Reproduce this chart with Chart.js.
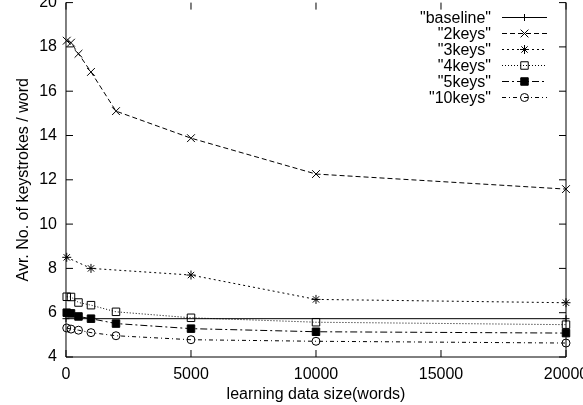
<!DOCTYPE html>
<html>
<head>
<meta charset="utf-8">
<script src="https://cdn.jsdelivr.net/npm/chart.js@4/dist/chart.umd.min.js"></script>
<style>
  html, body { margin: 0; padding: 0; background: #fff; overflow: hidden; width: 583px; height: 405px; }
  #wrap { position: absolute; left: 0; top: -16px; width: 600px; height: 423px; }
</style>
</head>
<body>
<div id="wrap"><canvas id="c" width="600" height="423"></canvas></div>
<script>
// ---- data ----
const seriesNames = ['"baseline"', '"2keys"', '"3keys"', '"4keys"', '"5keys"', '"10keys"'];
const xValues = [30, 200, 500, 1000, 2000, 5000, 10000, 20000];
const baselineX = [0, 20000];
const baselineY = [5.73, 5.73];
const keys2 = [18.28, 18.19, 17.69, 16.87, 15.10, 13.88, 12.26, 11.58];
const keys3X = [30, 1000, 5000, 10000, 20000];
const keys3 = [8.5, 8.0, 7.7, 6.6, 6.45];
const keys4 = [6.72, 6.71, 6.46, 6.34, 6.04, 5.77, 5.57, 5.46];
const keys5 = [6.0, 5.97, 5.83, 5.73, 5.51, 5.28, 5.14, 5.08];
const keys10 = [5.31, 5.26, 5.21, 5.10, 4.96, 4.78, 4.71, 4.63];
const xTicks = [0, 5000, 10000, 15000, 20000];
const yTicks = [4, 6, 8, 10, 12, 14, 16, 18, 20];

const pts = (xs, ys) => xs.map((x, i) => ({ x: x, y: ys[i] }));
const FONT = { family: "'Liberation Sans', Arial, Helvetica, sans-serif", size: 16 };

function mk(label, data, style, radius, dash, fill) {
  return {
    label: label,
    data: data,
    showLine: true,
    borderColor: '#000',
    borderWidth: 1,
    borderDash: dash,
    pointStyle: style,
    pointRadius: radius,
    pointHoverRadius: radius,
    pointBorderColor: '#000',
    pointBorderWidth: 1,
    pointBackgroundColor: fill ? '#000' : 'rgba(0,0,0,0)',
    backgroundColor: 'rgba(0,0,0,0)',
    fill: false,
    tension: 0,
    clip: false
  };
}

const datasets = [
  mk(seriesNames[0], pts(baselineX, baselineY), 'cross', 3.5, [], false),
  mk(seriesNames[1], pts(xValues, keys2), 'crossRot', 5.5, [5, 3], false),
  mk(seriesNames[2], pts(keys3X, keys3), 'star', 4.5, [2, 3], false),
  mk(seriesNames[3], pts(xValues, keys4), 'rect', 5.3, [1, 2], false),
  mk(seriesNames[4], pts(xValues, keys5), 'rect', 5.3, [7, 3, 2, 3], true),
  mk(seriesNames[5], pts(xValues, keys10), 'circle', 4, [4, 3, 1, 3], false)
];
datasets.forEach((d, i) => { d.order = datasets.length - i; });

function drawMarker(ctx, style, r, x, y, filled) {
  ctx.save();
  ctx.setLineDash([]);
  ctx.lineWidth = 1;
  ctx.strokeStyle = '#000';
  ctx.fillStyle = '#000';
  ctx.beginPath();
  if (style === 'cross' || style === 'star') {
    ctx.moveTo(x - r, y); ctx.lineTo(x + r, y);
    ctx.moveTo(x, y - r); ctx.lineTo(x, y + r);
  }
  if (style === 'crossRot' || style === 'star') {
    const o = Math.SQRT1_2 * r;
    ctx.moveTo(x - o, y - o); ctx.lineTo(x + o, y + o);
    ctx.moveTo(x - o, y + o); ctx.lineTo(x + o, y - o);
  }
  if (style === 'rect') {
    const s = Math.SQRT1_2 * r;
    ctx.rect(x - s, y - s, 2 * s, 2 * s);
  }
  if (style === 'circle') {
    ctx.arc(x, y, r, 0, Math.PI * 2);
  }
  if (filled) ctx.fill();
  ctx.stroke();
  ctx.restore();
}

const gnuplotFrame = {
  id: 'gnuplotFrame',
  beforeDatasetsDraw(chart) {
    const { ctx, chartArea: a, scales } = chart;
    const tl = 7;
    ctx.save();
    ctx.strokeStyle = '#000';
    ctx.lineWidth = 1;
    ctx.beginPath();
    ctx.moveTo(a.left, a.top); ctx.lineTo(a.left, a.bottom); ctx.lineTo(a.right, a.bottom); ctx.lineTo(a.right, a.top);
    scales.x.ticks.forEach(t => {
      const px = scales.x.getPixelForValue(t.value);
      ctx.moveTo(px, a.bottom); ctx.lineTo(px, a.bottom - tl);
      ctx.moveTo(px, a.top); ctx.lineTo(px, a.top + tl);
    });
    scales.y.ticks.forEach(t => {
      const py = scales.y.getPixelForValue(t.value);
      ctx.moveTo(a.left, py); ctx.lineTo(a.left + tl, py);
      ctx.moveTo(a.right, py); ctx.lineTo(a.right - tl, py);
    });
    ctx.stroke();
    ctx.restore();
  },
  afterDraw(chart) {
    const { ctx } = chart;
    const textRight = 491, lineL = 502, lineR = 547, top0 = 33.5, step = 16;
    ctx.save();
    ctx.font = "16px 'Liberation Sans', Arial, Helvetica, sans-serif";
    ctx.fillStyle = '#000';
    ctx.textAlign = 'right';
    ctx.textBaseline = 'middle';
    chart.data.datasets.forEach((d, i) => {
      const y = top0 + i * step;
      ctx.fillText(d.label, textRight, y + 1);
      ctx.save();
      ctx.strokeStyle = '#000';
      ctx.lineWidth = 1;
      ctx.setLineDash(d.borderDash || []);
      ctx.beginPath();
      ctx.moveTo(lineL, y); ctx.lineTo(lineR, y);
      ctx.stroke();
      ctx.restore();
      drawMarker(ctx, d.pointStyle, d.pointRadius, (lineL + lineR) / 2, y, d.pointBackgroundColor === '#000');
    });
    ctx.restore();
  }
};

new Chart(document.getElementById('c'), {
  type: 'scatter',
  data: { datasets: datasets },
  options: {
    responsive: false,
    animation: false,
    devicePixelRatio: 1,
    layout: { padding: { left: 0, right: 34, top: 0, bottom: 0 } },
    plugins: { legend: { display: false }, tooltip: { enabled: false } },
    scales: {
      x: {
        type: 'linear', min: 0, max: 20000,
        afterBuildTicks: (s) => { s.ticks = xTicks.map(v => ({ value: v })); },
        ticks: { color: '#000', font: FONT, padding: 8, maxRotation: 0, autoSkip: false, callback: (v) => String(v) },
        grid: { display: false, drawTicks: false, tickLength: 0 },
        border: { display: false },
        title: { display: true, text: 'learning data size(words)', color: '#000', font: FONT, padding: { top: -6.8, bottom: 2.4 } }
      },
      y: {
        type: 'linear', min: 4, max: 20,
        afterBuildTicks: (s) => { s.ticks = yTicks.map(v => ({ value: v })); },
        ticks: { color: '#000', font: FONT, padding: 9, autoSkip: false, callback: (v) => String(v) },
        grid: { display: false, drawTicks: false, tickLength: 0 },
        border: { display: false },
        title: { display: true, text: 'Avr. No. of keystrokes / word', color: '#000', font: FONT, padding: { top: 14.4, bottom: -3.4 } }
      }
    }
  },
  plugins: [gnuplotFrame]
});
</script>
</body>
</html>
